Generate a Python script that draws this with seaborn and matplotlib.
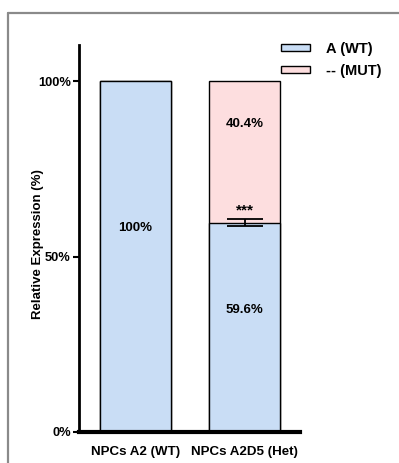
import matplotlib
matplotlib.use("Agg")
import matplotlib.pyplot as plt
from matplotlib.lines import Line2D
from matplotlib.patches import Patch
import seaborn as sns
import pandas as pd

# Relative expression of each allele per cell line
groups = ["NPCs A2 (WT)", "NPCs A2D5 (Het)"]
wt_values = [100.0, 59.6]
mut_values = [0.0, 40.4]
wt_err = [0.0, 1.0]
legend_labels = ["A (WT)", "-- (MUT)"]
yticks = [0, 50, 100]
ytick_labels = ["0%", "50%", "100%"]
sig_label = "***"

blue = "#C9DDF5"
pink = "#FDDEDF"

sns.set_theme(style="white")
plt.rcParams["font.family"] = ["Liberation Sans", "DejaVu Sans"]
plt.rcParams["font.weight"] = "bold"
for key in ("text.color", "axes.labelcolor", "xtick.color", "ytick.color"):
    plt.rcParams[key] = "black"

df = pd.DataFrame({
    "group": groups,
    "wt": wt_values,
    "total": [w + m for w, m in zip(wt_values, mut_values)],
})

fig = plt.figure(figsize=(3.99, 4.63), dpi=100)
ax = fig.add_axes([79 / 399, 1 - 432 / 463, (300 - 79) / 399, (432 - 45) / 463])

# stacked bars: full height in pink (MUT on top), WT segment drawn over it
sns.barplot(data=df, x="group", y="total", color=pink, width=0.655,
            edgecolor="black", linewidth=1.0, saturation=1, ax=ax)
sns.barplot(data=df, x="group", y="wt", color=blue, width=0.655,
            edgecolor="black", linewidth=1.0, saturation=1, ax=ax)

# error bar on the WT fraction of the heterozygous line
ax.errorbar([1], [wt_values[1]], yerr=[wt_err[1]], fmt="none", ecolor="black",
            elinewidth=1.3, capsize=13, capthick=1.3, zorder=5)
ax.text(1, wt_values[1] + wt_err[1] + 0.6, sig_label, ha="center", va="bottom",
        fontsize=11, fontweight="bold")

# value labels inside segments
for i, (w, m) in enumerate(zip(wt_values, mut_values)):
    ax.text(i, w * 0.582, f"{w:g}%", ha="center", va="center",
            fontsize=9.5, fontweight="bold")
    if m > 0:
        ax.text(i, w + m * 0.695, f"{m:g}%", ha="center", va="center",
                fontsize=9.5, fontweight="bold")

ax.set_xlim(-0.518, 0.509 + 1)
ax.set_ylim(0, 110.3)
ax.set_yticks(yticks)
ax.set_yticklabels(ytick_labels, fontsize=9.3, fontweight="bold")
ax.set_xlabel("")
ax.set_ylabel("Relative Expression (%)", fontsize=9.5, fontweight="bold")
ax.yaxis.set_label_coords(-0.158, 0.485)
for lab in ax.get_xticklabels():
    lab.set_fontsize(9.6)
    lab.set_fontweight("bold")

sns.despine(ax=ax)
ax.spines["left"].set_linewidth(2.0)
ax.spines["bottom"].set_linewidth(3.0)
ax.spines["left"].set_color("black")
ax.spines["bottom"].set_color("black")
ax.tick_params(axis="y", left=True, length=4, width=1.5, pad=2, color="black")
ax.tick_params(axis="x", bottom=False, length=0, pad=10)

handles = [Patch(facecolor=blue, edgecolor="black", linewidth=1.0),
           Patch(facecolor=pink, edgecolor="black", linewidth=1.0)]
fig.legend(handles, legend_labels, loc="upper left",
           bbox_to_anchor=(281 / 399, 1 - 42 / 463), frameon=False,
           borderpad=0, borderaxespad=0, handlelength=2.0, handleheight=0.35,
           handletextpad=1.1, labelspacing=0.55,
           prop={"size": 10.5, "weight": "bold"})

# outer gray frame
frame_kw = dict(color="#8a8a8a", linewidth=1.6, transform=fig.transFigure)
fig.add_artist(Line2D([8 / 399, 1], [1 - 13 / 463, 1 - 13 / 463], **frame_kw))
fig.add_artist(Line2D([8 / 399, 8 / 399], [0, 1 - 13 / 463], **frame_kw))

fig.savefig("out.png", dpi=100)
